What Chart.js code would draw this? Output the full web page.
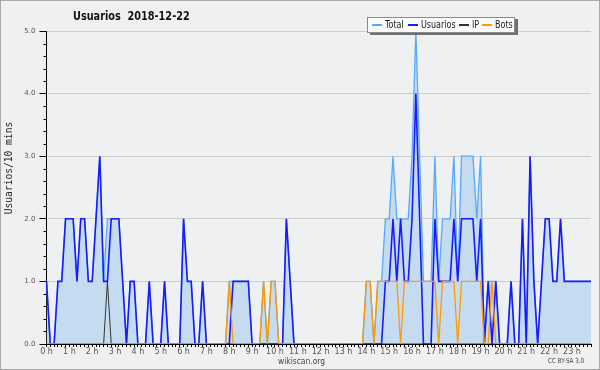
<!DOCTYPE html>
<html><head><meta charset="utf-8">
<script src="https://cdn.jsdelivr.net/npm/chart.js@4.4.1/dist/chart.umd.min.js"></script>
<style>
html,body{margin:0;padding:0;background:#f0f0f0;}
body{position:relative;width:600px;height:370px;overflow:hidden;}
canvas{position:absolute;left:0;top:0;}
#frame{position:absolute;left:0;top:0;width:600px;height:370px;box-sizing:border-box;border:1px solid #a8a8a8;pointer-events:none;}
.t{position:absolute;font-family:"DejaVu Sans",sans-serif;white-space:nowrap;transform-origin:0 50%;}
#legend{position:absolute;left:367px;top:17px;width:146px;height:14px;background:#fbfbfb;border:1px solid #8a8a8a;box-shadow:3px 2px 0 #707070;}
.mk{position:absolute;width:10px;height:1.5px;top:24px;}
.lt{font-size:10px;line-height:14px;top:18px;color:#222;transform:scaleX(0.8);}
</style></head>
<body>
<canvas id="c" width="600" height="370"></canvas>
<div class="t" id="title" style="left:73px;top:10px;font-size:12px;line-height:12px;font-weight:bold;color:#111;transform:scaleX(0.81);">Usuarios&nbsp;&nbsp;2018-12-22</div>
<div id="legend"></div>
<div class="mk" style="left:372px;background:#55aaff"></div><div class="t lt" style="left:385px">Total</div>
<div class="mk" style="left:408px;background:#1a1aff"></div><div class="t lt" style="left:421px">Usuarios</div>
<div class="mk" style="left:459px;background:#333"></div><div class="t lt" style="left:472px">IP</div>
<div class="mk" style="left:482px;background:#ff9900"></div><div class="t lt" style="left:495px">Bots</div>
<div style="position:absolute;left:-91px;top:162px;width:200px;height:12px;line-height:12px;text-align:center;transform:rotate(-90deg);font-family:'DejaVu Sans Mono',monospace;font-size:9.6px;color:#222;white-space:nowrap;">Usuarios/10 mins</div>
<div class="t" style="left:278px;top:356px;font-size:9px;line-height:10px;color:#444;transform:scaleX(0.84);">wikiscan.org</div>
<div class="t" style="left:548px;top:357px;font-size:7px;line-height:9px;color:#444;transform:scaleX(0.8);">CC BY-SA 3.0</div>
<div id="frame"></div>
<script>
const hourLabels = ["0 h","1 h","2 h","3 h","4 h","5 h","6 h","7 h","8 h","9 h","10 h","11 h","12 h","13 h","14 h","15 h","16 h","17 h","18 h","19 h","20 h","21 h","22 h","23 h"];
const minuteSlots = ["00","10","20","30","40","50"];
const yTicks = [0,1,2,3,4,5];

const total = [
1,0,0,1,1,2,2,2,1,2,2,1, 1,2,3,1,2,2,2,2,1,0,1,1,
0,0,0,1,0,0,0,1,0,0,0,0, 2,1,1,0,0,1,0,0,0,0,0,0,
1,1,1,1,1,1,0,0,0,1,0,1, 1,0,0,2,1,0,0,0,0,0,0,0,
0,0,0,0,0,0,0,0,0,0,0,0, 1,1,0,1,1,2,2,3,2,2,2,2,
3,5,3,1,1,1,3,1,2,2,2,3, 1,3,3,3,3,2,3,0,1,1,1,0,
0,0,1,0,0,2,0,3,1,0,1,2, 2,1,1,2,1,1,1,1,1,1,1,1
];
const usuarios = [
1,0,0,1,1,2,2,2,1,2,2,1, 1,2,3,1,1,2,2,2,1,0,1,1,
0,0,0,1,0,0,0,1,0,0,0,0, 2,1,1,0,0,1,0,0,0,0,0,0,
0,1,1,1,1,1,0,0,0,0,0,0, 0,0,0,2,1,0,0,0,0,0,0,0,
0,0,0,0,0,0,0,0,0,0,0,0, 0,0,0,0,0,1,1,2,1,2,1,1,
2,4,2,0,0,0,2,1,1,1,1,2, 1,2,2,2,2,1,2,0,1,0,1,0,
0,0,1,0,0,2,0,3,1,0,1,2, 2,1,1,2,1,1,1,1,1,1,1,1
];
const ip = [
0,0,0,0,0,0,0,0,0,0,0,0, 0,0,0,0,1,0,0,0,0,0,0,0,
0,0,0,0,0,0,0,0,0,0,0,0, 0,0,0,0,0,0,0,0,0,0,0,0,
0,0,0,0,0,0,0,0,0,0,0,0, 0,0,0,0,0,0,0,0,0,0,0,0,
0,0,0,0,0,0,0,0,0,0,0,0, 0,0,0,0,0,0,0,0,0,0,0,0,
0,0,0,0,0,0,0,0,0,0,0,0, 0,0,0,0,0,0,0,0,0,0,0,0,
0,0,0,0,0,0,0,0,0,0,0,0, 0,0,0,0,0,0,0,0,0,0,0,0
];
const bots = [
0,0,0,0,0,0,0,0,0,0,0,0, 0,0,0,0,0,0,0,0,0,0,0,0,
0,0,0,0,0,0,0,0,0,0,0,0, 0,0,0,0,0,0,0,0,0,0,0,0,
1,0,0,0,0,0,0,0,0,1,0,1, 1,0,0,0,0,0,0,0,0,0,0,0,
0,0,0,0,0,0,0,0,0,0,0,0, 1,1,0,1,1,1,1,1,1,0,1,1,
1,1,1,1,1,1,1,0,1,1,1,1, 0,1,1,1,1,1,1,0,0,1,0,0,
0,0,0,0,0,0,0,0,0,0,0,0, 0,0,0,0,0,0,0,0,0,0,0,0
];

const categories = [];
hourLabels.forEach((h, hi) => minuteSlots.forEach(m => categories.push(String(hi).padStart(2,"0") + ":" + m)));

const FONT = "'DejaVu Sans',sans-serif";

const bgPlugin = {
  id: 'bg',
  beforeDraw(chart) {
    const {ctx, chartArea: a} = chart;
    ctx.save();
    ctx.fillStyle = '#eef0f2';
    ctx.fillRect(a.left, a.top, a.right - a.left, a.bottom - a.top);
    ctx.restore();
  },
  afterDraw(chart) {
    const {ctx, chartArea: a} = chart;
    const y = chart.scales.y;
    ctx.save();
    ctx.strokeStyle = '#000';
    ctx.lineWidth = 1;
    ctx.beginPath();
    for (let k = 0; k <= 25; k++) {
      if (k % 5 === 0) continue;
      const py = Math.round(y.getPixelForValue(k / 5)) + 0.5;
      ctx.moveTo(a.left - 3, py);
      ctx.lineTo(a.left, py);
    }
    ctx.stroke();
    ctx.restore();
  }
};

new Chart(document.getElementById('c'), {
  type: 'line',
  data: {
    labels: categories,
    datasets: [
      {label:'Bots', data: bots, borderColor:'#ff9900', borderWidth:1.3, pointRadius:0, fill:false, order:0},
      {label:'Usuarios', data: usuarios, borderColor:'#1a1aff', borderWidth:1.6, pointRadius:0, fill:false, order:1},
      {label:'IP', data: ip, borderColor:'#333333', borderWidth:1, pointRadius:0, fill:false, order:2},
      {label:'Total', data: total, borderColor:'#55aaff', backgroundColor:'#c5dcf0', borderWidth:1.3, pointRadius:0, fill:'origin', order:3}
    ]
  },
  options: {
    responsive:false, animation:false, devicePixelRatio:1,
    layout:{padding:{left:0,right:9,top:31,bottom:0}},
    elements:{line:{tension:0}},
    plugins:{legend:{display:false}, title:{display:false}, tooltip:{enabled:false}},
    scales:{
      x:{
        type:'category', offset:false,
        grid:{display:true, drawOnChartArea:false, tickLength:3, tickColor:'#000', lineWidth:1},
        border:{display:true, color:'#000', width:1},
        ticks:{autoSkip:false, maxRotation:0, minRotation:0, padding:0, color:'#555',
          font:{family:FONT, size:8},
          callback:(v,i)=> (i % 6 === 0 ? hourLabels[i/6] : '')},
        afterFit(s){ s.height = 26; }
      },
      y:{
        min:yTicks[0], max:yTicks[yTicks.length-1],
        afterBuildTicks(s){ s.ticks = yTicks.map(v => ({value:v})); },
        grid:{color:'#cccccc', tickColor:'#000', tickLength:7, lineWidth:1},
        border:{display:true, color:'#000', width:1},
        ticks:{padding:4, color:'#555', font:{family:FONT, size:7}, callback:v=>Number(v).toFixed(1)},
        afterFit(s){ s.width = 46.5; }
      }
    }
  },
  plugins:[bgPlugin]
});
</script>
</body></html>
